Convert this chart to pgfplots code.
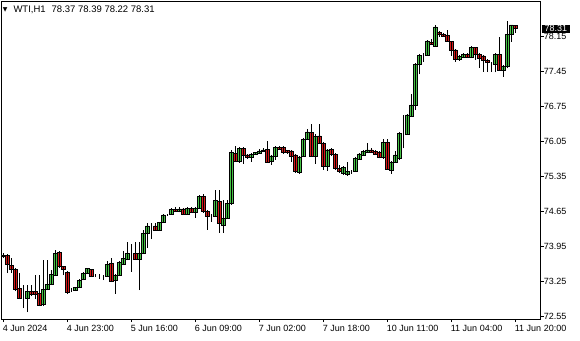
\documentclass[border=0pt]{standalone}
\usepackage{fontspec}
\setmainfont{Liberation Sans}
\newfontfamily\dejavu{DejaVu Sans}
\usepackage{pgfplots}
\usepackage{pgfplotstable}
\pgfplotsset{compat=1.18}
\definecolor{bull}{RGB}{70,195,70}
\definecolor{bear}{RGB}{215,25,25}
\pgfplotstableread{
i O H L C
0 73.764 73.824 73.724 73.784
1 73.784 73.804 73.424 73.604
2 73.584 73.724 73.424 73.504
3 73.504 73.524 73.064 73.104
4 73.124 73.424 72.904 72.924
5 72.934 73.184 72.724 72.934
6 72.924 73.184 72.644 73.064
7 73.054 73.184 72.964 73.004
8 73.054 73.384 72.904 73.004
9 73.024 73.384 72.764 72.784
10 72.804 73.684 72.764 73.104
11 73.104 73.684 73.084 73.204
12 73.204 73.484 73.184 73.404
13 73.384 73.884 73.364 73.824
14 73.844 73.864 73.524 73.564
15 73.564 73.564 73.384 73.504
16 73.444 73.464 73.004 73.044
17 73.084 73.124 73.044 73.084
18 73.084 73.144 73.064 73.134
19 73.144 73.304 73.124 73.284
20 73.294 73.444 73.284 73.424
21 73.424 73.524 73.404 73.514
22 73.494 73.504 73.344 73.354
23 73.374 73.404 73.344 73.374
24 73.354 73.404 73.304 73.354
25 73.354 73.384 73.284 73.354
26 73.350 73.664 73.344 73.604
27 73.618 73.724 73.244 73.254
28 73.270 73.404 73.014 73.384
29 73.384 73.664 73.364 73.644
30 73.604 73.864 73.584 73.718
31 73.704 74.050 73.684 73.818
32 73.818 74.004 73.450 73.818
33 73.818 74.050 73.684 73.694
34 73.694 74.050 73.084 73.814
35 73.818 74.284 73.804 74.218
36 74.218 74.424 73.924 74.364
37 74.364 74.424 74.104 74.364
38 74.364 74.430 74.264 74.284
39 74.270 74.444 74.264 74.438
40 74.438 74.604 74.424 74.584
41 74.584 74.604 74.564 74.584
42 74.598 74.724 74.584 74.698
43 74.698 74.738 74.644 74.650
44 74.650 74.744 74.634 74.704
45 74.704 74.724 74.584 74.598
46 74.604 74.744 74.584 74.718
47 74.718 74.744 74.624 74.634
48 74.630 74.744 74.530 74.718
49 74.718 74.984 74.704 74.950
50 74.950 75.004 74.624 74.650
51 74.650 74.684 74.284 74.564
52 74.564 74.604 74.444 74.564
53 74.564 75.084 74.544 74.878
54 74.858 75.084 74.230 74.418
55 74.370 74.884 74.224 74.518
56 74.518 74.884 74.504 74.818
57 74.818 75.884 74.784 75.838
58 75.818 75.964 75.644 75.650
59 75.650 75.944 75.624 75.918
60 75.918 75.944 75.604 75.784
61 75.784 75.804 75.704 75.730
62 75.730 75.824 75.644 75.798
63 75.798 75.844 75.784 75.830
64 75.818 75.904 75.804 75.864
65 75.850 75.924 75.844 75.884
66 75.898 76.070 75.624 75.630
67 75.650 75.784 75.584 75.764
68 75.764 75.964 75.684 75.938
69 75.938 75.964 75.884 75.898
70 75.938 75.964 75.804 75.838
71 75.870 75.884 75.804 75.830
72 75.864 75.884 75.650 75.750
73 75.784 75.804 75.424 75.450
74 75.444 75.764 75.404 75.744
75 75.750 76.124 75.744 76.098
76 76.098 76.304 76.084 76.244
77 76.230 76.404 75.744 75.764
78 75.764 76.204 75.604 76.154
79 76.164 76.404 76.004 76.018
80 76.018 76.044 75.484 75.554
81 75.554 75.904 75.464 75.884
82 75.898 75.924 75.764 75.798
83 75.798 75.824 75.484 75.514
84 75.514 75.584 75.424 75.450
85 75.418 75.564 75.384 75.538
86 75.398 75.638 75.370 75.450
87 75.444 75.484 75.404 75.444
88 75.450 75.744 75.444 75.718
89 75.698 75.830 75.684 75.804
90 75.784 75.884 75.764 75.850
91 75.838 76.018 75.824 75.884
92 75.884 75.918 75.824 75.838
93 75.850 75.884 75.784 75.798
94 75.830 75.864 75.718 75.730
95 75.730 76.098 75.704 76.030
96 76.030 76.098 75.484 75.498
97 75.470 75.664 75.404 75.638
98 75.638 75.864 75.624 75.784
99 75.718 76.244 75.684 76.218
100 76.214 76.584 75.918 76.214
101 76.198 76.604 76.184 76.584
102 76.550 77.004 76.544 76.784
103 76.784 77.624 76.684 77.598
104 77.598 77.804 77.398 77.770
105 77.784 77.824 77.644 77.784
106 77.784 78.084 77.764 78.064
107 78.038 78.104 77.984 77.998
108 77.950 78.384 77.944 78.344
109 78.238 78.264 78.150 78.198
110 78.198 78.214 78.144 78.150
111 78.170 78.284 78.044 78.050
112 78.050 78.064 77.770 77.878
113 77.884 77.904 77.650 77.704
114 77.704 77.784 77.664 77.750
115 77.744 77.824 77.724 77.798
116 77.798 77.824 77.724 77.730
117 77.738 77.954 77.724 77.938
118 77.930 77.944 77.684 77.798
119 77.798 77.824 77.524 77.718
120 77.764 77.784 77.450 77.684
121 77.678 77.704 77.450 77.630
122 77.618 77.644 77.450 77.618
123 77.598 77.824 77.438 77.798
124 77.798 78.150 77.464 77.484
125 77.484 77.574 77.350 77.550
126 77.550 78.464 77.518 78.198
127 78.198 78.390 78.050 78.384
128 78.370 78.390 78.220 78.310
}\candles
\begin{document}
\begin{tikzpicture}[x=1pt,y=1pt]
\useasboundingbox (-1.7,-21) rectangle (578.3,319);
\begin{axis}[
  at={(0,0)}, anchor=south west,
  width=539pt, height=317.5pt, scale only axis,
  xmin=-0.4, xmax=134.35, ymin=72.504, ymax=78.854,
  ybar stacked, bar width=3.5pt,
  clip mode=individual,
  axis line style={black, line width=0.8pt},
  tick style={black, line width=0.8pt},
  tick align=outside, major tick length=3pt,
  xtick pos=bottom, ytick pos=right, yticklabel pos=right,
  xtick={0,16,...,128},
  xticklabels={4 Jun 2024,4 Jun 23:00,5 Jun 16:00,6 Jun 09:00,7 Jun 02:00,7 Jun 18:00,10 Jun 11:00,11 Jun 04:00,11 Jun 20:00},
  ytick={72.55,73.25,73.95,74.65,75.35,76.05,76.75,77.45,78.15},
  /pgf/number format/fixed,
  /pgf/number format/fixed zerofill,
  /pgf/number format/precision=2,
  /pgf/number format/assume math mode=true,
  ticklabel style={font=\fontsize{9}{10}\selectfont},
  x tick label style={anchor=north west, inner sep=0pt, xshift=-0.6pt, yshift=-3pt},
  y tick label style={anchor=west, inner sep=0pt},
]
\addplot[draw=none, fill=none, forget plot,
  error bars/.cd, y dir=plus, y explicit, error mark=none,
  error bar style={draw=black, line width=0.9pt}]
  table[x=i, y=L, y error plus expr=\thisrow{H}-\thisrow{L}] {\candles};
\addplot[draw=none, fill=none, forget plot]
  table[x=i, y expr={min(\thisrow{O},\thisrow{C})-\thisrow{L}}] {\candles};
\addplot[draw=black, fill=bull, line width=0.6pt]
  table[x=i, y expr={max(\thisrow{C}-\thisrow{O},0)}] {\candles};
\addplot[draw=black, fill=bear, line width=0.6pt]
  table[x=i, y expr={max(\thisrow{O}-\thisrow{C},0)}] {\candles};
\node[fill=black, text=white, anchor=west, inner xsep=2.5pt, inner ysep=1pt,
  font=\fontsize{9}{10}\selectfont] at (axis cs:134.35,78.31) [xshift=1.2pt] {78.31};
\end{axis}
\node[inner sep=0pt] at (3.6,309.5) {\dejavu\fontsize{6}{6}\selectfont ▼};
\node[anchor=base west, inner sep=0pt, font=\fontsize{9.5}{10}\selectfont] at (11.6,306.7)
  {WTI,H1\hspace{6pt}78.37 78.39 78.22 78.31};
\end{tikzpicture}
\end{document}
